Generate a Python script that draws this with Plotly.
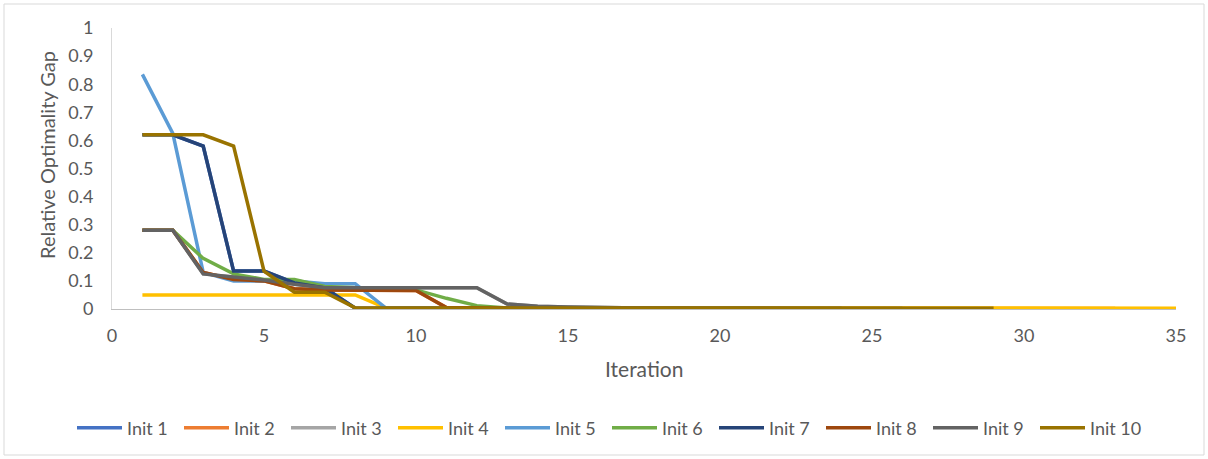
import plotly.graph_objects as go

series_names = ["Init 1", "Init 2", "Init 3", "Init 4", "Init 5",
                "Init 6", "Init 7", "Init 8", "Init 9", "Init 10"]

init1 = [0.62, 0.62, 0.58, 0.135, 0.135, 0.093, 0.075, 0.003, 0.002, 0.002,
         0.001, 0.0, 0.0, 0.0, 0.0, 0.0, 0.0, 0.0, 0.0, 0.0,
         0.0, 0.0, 0.0, 0.0, 0.0, 0.0]
init2 = [0.28, 0.28, 0.13, 0.105, 0.1, 0.072, 0.068, 0.067, 0.067, 0.066,
         0.005, 0.003, 0.003, 0.002, 0.002, 0.002, 0.002, 0.002, 0.002, 0.002,
         0.002, 0.002, 0.002, 0.002, 0.002, 0.002, 0.002, 0.002, 0.002, 0.002,
         0.002, 0.002, 0.002]
init3 = [0.28, 0.28, 0.125, 0.115, 0.103, 0.088, 0.076, 0.076, 0.076, 0.076,
         0.076, 0.076, 0.018, 0.01, 0.007, 0.005, 0.004, 0.003, 0.003, 0.002,
         0.002, 0.002]
init4 = [0.05, 0.05, 0.05, 0.05, 0.05, 0.05, 0.05, 0.05, 0.004, 0.004,
         0.003, 0.003, 0.003, 0.003, 0.003, 0.003, 0.003, 0.003, 0.003, 0.003,
         0.003, 0.003, 0.003, 0.003, 0.003, 0.003, 0.003, 0.003, 0.003, 0.003,
         0.003, 0.003, 0.003, 0.003, 0.003]
init5 = [0.835, 0.625, 0.13, 0.1, 0.1, 0.1, 0.09, 0.09, 0.004, 0.003,
         0.003, 0.003, 0.003, 0.002, 0.002, 0.002, 0.002, 0.002]
init6 = [0.28, 0.28, 0.18, 0.125, 0.105, 0.105, 0.08, 0.075, 0.072, 0.068,
         0.038, 0.012, 0.004, 0.003, 0.003, 0.003, 0.002, 0.002, 0.002, 0.002,
         0.002]
init7 = [0.62, 0.62, 0.58, 0.135, 0.135, 0.093, 0.075, 0.003, 0.003, 0.003,
         0.002, 0.002, 0.002, 0.002, 0.002, 0.002, 0.002, 0.002, 0.002, 0.002,
         0.002, 0.002, 0.002, 0.002]
init8 = [0.28, 0.28, 0.13, 0.105, 0.1, 0.072, 0.068, 0.067, 0.067, 0.066,
         0.005, 0.003, 0.003, 0.002, 0.002, 0.002, 0.002, 0.002, 0.002]
init9 = [0.28, 0.28, 0.125, 0.115, 0.103, 0.088, 0.076, 0.076, 0.076, 0.076,
         0.076, 0.076, 0.018, 0.01, 0.007, 0.005, 0.004, 0.003, 0.003, 0.002,
         0.002, 0.002, 0.002, 0.002, 0.002, 0.002]
init10 = [0.62, 0.62, 0.62, 0.58, 0.135, 0.06, 0.06, 0.004, 0.004, 0.003,
          0.003, 0.003, 0.003, 0.003, 0.003, 0.003, 0.003, 0.003, 0.003, 0.003,
          0.003, 0.003, 0.003, 0.003, 0.003, 0.003, 0.003, 0.003, 0.003]

all_series = [init1, init2, init3, init4, init5, init6, init7, init8, init9, init10]
colors = ["#4472C4", "#ED7D31", "#A5A5A5", "#FFC000", "#5B9BD5",
          "#70AD47", "#264478", "#9E480E", "#636363", "#997300"]

x_ticks = [0, 5, 10, 15, 20, 25, 30, 35]
y_ticks = [0, 0.1, 0.2, 0.3, 0.4, 0.5, 0.6, 0.7, 0.8, 0.9, 1]
y_tick_text = ["0", "0.1", "0.2", "0.3", "0.4", "0.5", "0.6", "0.7", "0.8", "0.9", "1"]

FONT = "Lato, 'Open Sans', sans-serif"
TXT = "#595959"

fig = go.Figure()
for name, vals, col in zip(series_names, all_series, colors):
    fig.add_trace(go.Scatter(
        x=list(range(1, len(vals) + 1)), y=vals, name=name, mode="lines",
        line=dict(color=col, width=3.5),
    ))

W, H = 1208, 459
L, R, T, B = 112, 32, 28, 150
pw, ph = W - L - R, H - T - B

fig.update_layout(
    width=W, height=H,
    margin=dict(l=L, r=R, t=T, b=B),
    paper_bgcolor="white", plot_bgcolor="white",
    font=dict(family=FONT, size=18, color=TXT),
    showlegend=True,
    legend=dict(
        orientation="h", x=(72 - L) / pw, xanchor="left",
        y=-(428 - (T + ph)) / ph, yanchor="middle",
        bgcolor="rgba(0,0,0,0)",
        font=dict(family=FONT, size=18, color=TXT),
        entrywidth=47, itemwidth=45, traceorder="normal",
    ),
    xaxis=dict(
        range=[0, 35], tickvals=x_ticks, showgrid=False, zeroline=False,
        showline=True, linecolor="#BFBFBF", linewidth=1, ticks="",
        ticklabelstandoff=10, layer="below traces",
    ),
    yaxis=dict(
        range=[0, 1], tickvals=y_ticks, ticktext=y_tick_text, showgrid=False,
        zeroline=False, showline=True, linecolor="#D9D9D9", linewidth=1,
        ticks="", ticklabelstandoff=14, layer="below traces",
    ),
    annotations=[
        dict(text="Iteration", xref="paper", yref="paper",
             x=0.5, y=-(368 - (T + ph)) / ph, xanchor="center", yanchor="middle",
             showarrow=False, font=dict(family=FONT, size=21, color=TXT)),
        dict(text="Relative Optimality Gap", xref="paper", yref="paper",
             x=(47 - L) / pw, y=((T + ph) - 155) / ph, xanchor="center",
             yanchor="middle", textangle=-90, showarrow=False,
             font=dict(family=FONT, size=20, color=TXT)),
    ],
    shapes=[
        dict(type="rect", xref="paper", yref="paper",
             x0=(4 - L) / pw, x1=(1204 - L) / pw,
             y0=-(455 - (T + ph)) / ph, y1=((T + ph) - 4) / ph,
             line=dict(color="#D9D9D9", width=1), fillcolor="rgba(0,0,0,0)",
             layer="below"),
    ],
)

fig.write_html("out.html")
